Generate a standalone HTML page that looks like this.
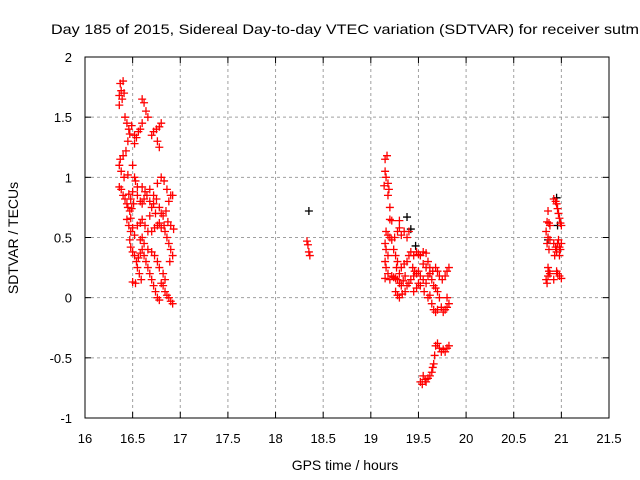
<!DOCTYPE html>
<html><head><meta charset="utf-8"><style>
html,body{margin:0;padding:0;background:#fff}
svg{display:block;font-family:"Liberation Sans",sans-serif}
</style></head><body>
<svg id="chart" width="640" height="480" viewBox="0 0 640 480" xmlns="http://www.w3.org/2000/svg">
<rect width="640" height="480" fill="#fff"/>
<text x="51" y="34" font-size="14" textLength="588" lengthAdjust="spacingAndGlyphs" fill="#000">Day 185 of 2015, Sidereal Day-to-day VTEC variation (SDTVAR) for receiver sutm</text>
<text transform="translate(18,238) rotate(-90)" text-anchor="middle" font-size="14">SDTVAR / TECUs</text>
<text x="345" y="470" text-anchor="middle" font-size="14">GPS time / hours</text>
<g id="grid"></g><g id="ticks"></g><g id="marks"></g>
<rect x="85" y="57" width="524" height="361" fill="none" stroke="#000" stroke-width="1"/>
</svg>
<script>
const xTicks=[16,16.5,17,17.5,18,18.5,19,19.5,20,20.5,21,21.5];
const yTicks=[-1,-0.5,0,0.5,1,1.5,2];
const redX=[16.37,16.38,16.40,16.36,16.39,16.41,16.36,16.42,16.44,16.46,16.49,16.47,16.45,16.52,16.43,16.40,16.37,16.36,16.38,16.41,16.45,16.50,16.52,16.53,16.55,16.50,16.46,16.48,16.51,16.49,16.36,16.38,16.40,16.42,16.44,16.45,16.47,16.48,16.50,16.52,16.47,16.48,16.50,16.52,16.54,16.56,16.58,16.60,16.62,16.64,16.66,16.68,16.70,16.72,16.74,16.76,16.78,16.80,16.82,16.84,16.86,16.88,16.90,16.92,16.60,16.62,16.64,16.66,16.60,16.58,16.56,16.54,16.52,16.70,16.72,16.75,16.78,16.80,16.76,16.78,16.55,16.58,16.60,16.62,16.65,16.68,16.70,16.72,16.75,16.78,16.80,16.82,16.85,16.88,16.90,16.92,16.55,16.58,16.60,16.63,16.66,16.70,16.73,16.76,16.80,16.84,16.86,16.88,16.90,16.92,16.89,16.60,16.63,16.68,16.72,16.76,16.80,16.83,16.86,16.55,16.57,16.59,16.50,16.53,16.62,16.66,16.70,16.73,16.76,16.78,16.82,16.84,16.48,16.46,16.44,16.58,16.60,16.68,16.74,16.78,16.83,16.87,16.90,16.93,
18.33,18.34,18.35,18.36,
19.15,19.17,19.15,19.16,19.18,19.14,19.19,19.18,19.20,19.20,19.22,19.30,19.16,19.18,19.20,19.22,19.25,19.28,19.30,19.32,19.35,19.38,19.40,19.15,19.16,19.18,19.15,19.16,19.18,19.15,19.20,19.22,19.24,19.26,19.28,19.30,19.32,19.34,19.36,19.24,19.26,19.28,19.27,19.30,19.32,19.35,19.38,19.40,19.42,19.45,19.48,19.50,19.52,19.55,19.58,19.26,19.28,19.30,19.33,19.36,19.38,19.40,19.42,19.45,19.48,19.50,19.52,19.55,19.58,19.60,19.62,19.65,19.68,19.70,19.72,19.75,19.78,19.80,19.82,19.55,19.58,19.60,19.62,19.64,19.66,19.68,19.70,19.72,19.62,19.64,19.66,19.68,19.70,19.74,19.76,19.78,19.80,19.82,19.80,19.45,19.48,19.50,19.52,19.56,19.60,19.44,19.46,19.68,19.70,19.72,19.74,19.76,19.78,19.80,19.82,19.67,19.66,19.55,19.57,19.58,19.60,19.62,19.64,19.65,19.54,19.52,
20.92,20.94,20.95,20.96,20.97,20.98,20.99,21.00,20.86,20.85,20.87,20.88,20.84,20.86,20.88,20.85,20.87,20.92,20.94,20.95,20.96,20.97,20.98,20.99,21.00,20.93,20.95,20.98,20.86,20.87,20.88,20.86,20.84,20.85,20.95,20.96,20.98,21.00,20.92];
const redY=[1.78,1.72,1.80,1.68,1.65,1.70,1.60,1.50,1.45,1.40,1.43,1.36,1.30,1.35,1.22,1.18,1.15,1.10,1.05,1.00,1.02,1.10,1.00,0.97,0.92,0.88,0.86,0.82,0.78,0.74,0.92,0.90,0.85,0.82,0.78,0.75,0.72,0.66,0.58,0.52,0.48,0.42,0.38,0.35,0.30,0.33,0.37,0.40,0.35,0.30,0.25,0.20,0.15,0.10,0.05,0.0,-0.02,0.12,0.10,0.05,0.02,0.0,-0.03,-0.05,1.65,1.62,1.55,1.50,1.45,1.40,1.38,1.33,1.28,1.35,1.38,1.40,1.42,1.45,1.30,1.25,0.85,0.80,0.78,0.82,0.85,0.80,0.75,0.78,0.82,0.75,0.70,0.68,0.72,0.80,0.85,0.85,0.60,0.62,0.65,0.60,0.55,0.55,0.58,0.60,0.58,0.55,0.50,0.45,0.40,0.35,0.30,0.92,0.88,0.90,0.85,0.95,1.00,0.97,0.90,0.25,0.20,0.15,0.13,0.12,0.45,0.40,0.38,0.35,0.30,0.25,0.20,0.15,0.55,0.60,0.65,0.48,0.50,0.68,0.70,0.62,0.60,0.63,0.60,0.57,
0.47,0.44,0.38,0.35,
1.15,1.18,1.05,1.00,0.95,0.93,0.90,0.85,0.75,0.65,0.64,0.64,0.55,0.52,0.50,0.48,0.50,0.55,0.58,0.52,0.55,0.50,0.55,0.45,0.40,0.35,0.30,0.25,0.20,0.16,0.15,0.18,0.17,0.16,0.15,0.12,0.10,0.14,0.18,0.40,0.35,0.30,0.25,0.20,0.25,0.28,0.30,0.35,0.38,0.35,0.38,0.36,0.35,0.38,0.37,0.05,0.02,0.0,0.03,0.05,0.10,0.12,0.15,0.18,0.20,0.22,0.18,0.15,0.12,0.18,0.20,0.22,0.25,0.22,0.18,0.15,0.18,0.22,0.25,0.28,0.25,0.30,0.25,0.15,0.10,0.08,0.05,0.0,0.02,-0.05,-0.10,-0.12,-0.10,-0.08,-0.12,-0.10,-0.08,-0.05,0.0,0.05,0.08,0.12,0.10,0.05,0.0,0.25,0.22,-0.40,-0.38,-0.42,-0.45,-0.43,-0.45,-0.42,-0.40,-0.48,-0.55,-0.65,-0.68,-0.70,-0.67,-0.65,-0.62,-0.58,-0.72,-0.70,
0.82,0.80,0.78,0.74,0.70,0.66,0.62,0.60,0.72,0.63,0.62,0.60,0.55,0.50,0.48,0.45,0.40,0.45,0.42,0.40,0.45,0.48,0.42,0.40,0.45,0.35,0.38,0.35,0.25,0.22,0.20,0.18,0.15,0.12,0.22,0.20,0.18,0.16,0.15];
const blackX=[18.35,19.38,19.42,19.47,20.95,20.86,20.96];
const blackY=[0.72,0.67,0.57,0.43,0.83,0.48,0.60];

const NS="http://www.w3.org/2000/svg";
const X0=85,X1=609,Y0=418,Y1=57,XMIN=16,XMAX=21.5,YMIN=-1,YMAX=2;
const sx=v=>X0+(v-XMIN)/(XMAX-XMIN)*(X1-X0);
const sy=v=>Y0-(v-YMIN)/(YMAX-YMIN)*(Y0-Y1);
function mk(tag,attrs,parent){const e=document.createElementNS(NS,tag);for(const k in attrs)e.setAttribute(k,attrs[k]);parent.appendChild(e);return e;}
const grid=document.getElementById('grid'),ticks=document.getElementById('ticks'),marks=document.getElementById('marks');
xTicks.forEach(t=>{const x=sx(t);
 if(t>XMIN&&t<XMAX){const g=mk('line',{x1:x,x2:x,y1:Y1,y2:Y0,stroke:'#a0a0a0','stroke-dasharray':'3,3'},grid);
 
 }
 mk('line',{x1:x,x2:x,y1:Y0,y2:Y0-6,stroke:'#000'},ticks);
 mk('line',{x1:x,x2:x,y1:Y1,y2:Y1+6,stroke:'#000'},ticks);
 const l=mk('text',{x:x,y:443,'text-anchor':'middle','font-size':13},ticks);l.textContent=String(t);
 
 });
yTicks.forEach(t=>{const y=sy(t);
 if(t>YMIN&&t<YMAX){const g=mk('line',{x1:X0,x2:X1,y1:y,y2:y,stroke:'#a0a0a0','stroke-dasharray':'3,3'},grid);
 
 }
 mk('line',{x1:X0,x2:X0+6,y1:y,y2:y,stroke:'#000'},ticks);
 mk('line',{x1:X1,x2:X1-6,y1:y,y2:y,stroke:'#000'},ticks);
 const l=mk('text',{x:72,y:y+5,'text-anchor':'end','font-size':13},ticks);l.textContent=String(t);
 
 });
function cross(v,w,color,name){const x=sx(v),y=sy(w);
 const p=mk('path',{d:`M${x-4},${y}H${x+4}M${x},${y-4}V${y+4}`,stroke:color,'stroke-width':1.3,fill:'none'},marks);
 
 }
blackX.forEach((v,i)=>cross(v,blackY[i],'#000','black-point'));
redX.forEach((v,i)=>cross(v,redY[i],'#ff0000','sdtvar-point'));
</script>
</body></html>
